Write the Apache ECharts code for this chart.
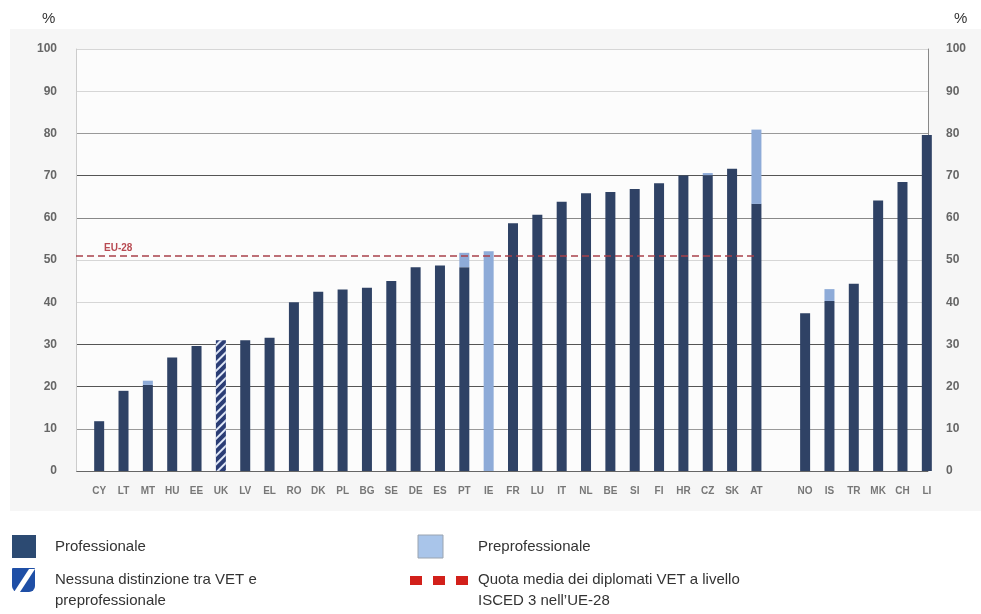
<!DOCTYPE html>
<html>
<head>
<meta charset="utf-8">
<script src="https://cdn.jsdelivr.net/npm/echarts@6/dist/echarts.min.js"></script>
<style>
html, body { margin: 0; padding: 0; background: #fff; }
#main { width: 981px; height: 614px; }
</style>
</head>
<body>
<div id="main"></div>
<script>
// paesi (colonna vuota tra UE-28 e paesi extra UE)
var countries = ['CY','LT','MT','HU','EE','UK','LV','EL','RO','DK','PL','BG','SE','DE','ES','PT','IE',
	'FR','LU','IT','NL','BE','SI','FI','HR','CZ','SK','AT','','NO','IS','TR','MK','CH','LI'];
var professionale = [11.8, 19.0, 20.4, 26.9, 29.6, '-', 31.0, 31.6, 40.0, 42.5, 43.0, 43.4, 45.0, 48.3, 48.7, 48.3, '-',
	58.7, 60.7, 63.8, 65.8, 66.1, 66.8, 68.2, 70.0, 70.1, 71.6, 63.3, '-', 37.4, 40.3, 44.4, 64.1, 68.5, 79.6];
var preprofessionale = ['-', '-', 1.0, '-', '-', '-', '-', '-', '-', '-', '-', '-', '-', '-', '-', 3.4, 52.1,
	'-', '-', '-', '-', '-', '-', '-', '-', 0.5, '-', 17.6, '-', '-', 2.8, '-', '-', '-', '-'];
var nessunaDistinzione = ['-', '-', '-', '-', '-', 31.0, '-', '-', '-', '-', '-', '-', '-', '-', '-', '-', '-',
	'-', '-', '-', '-', '-', '-', '-', '-', '-', '-', '-', '-', '-', '-', '-', '-', '-', '-'];
var euAvg = 51.0;
var yMin = 0, yMax = 100, yStep = 10;

// colori delle linee di griglia (0 -> 100), come nell'originale
var gridColors = ['#666', '#999', '#555', '#555', '#d6d6d6', '#d6d6d6', '#888', '#555', '#999', '#d6d6d6', '#d6d6d6'];

var main = document.getElementById('main');
var myChart = echarts.init(main);

var tickFont = {color: '#666', fontSize: 12, fontWeight: 'bold', fontFamily: 'Liberation Sans'};
var legendFont = {fontSize: 15, fontFamily: 'Liberation Sans', fill: '#333'};

var option = {
	animation: false,
	backgroundColor: '#fff',
	textStyle: {fontFamily: 'Liberation Sans'},
	grid: [
		{left: 76, right: 53, top: 49, bottom: 143, show: true, backgroundColor: '#fcfcfc', borderWidth: 0},
		{left: 87, right: 42, top: 49, bottom: 143},
		{left: 76, right: 225, top: 49, bottom: 143}
	],
	xAxis: [
		{gridIndex: 0, type: 'value', show: false, min: 0, max: 1},
		{
			gridIndex: 1,
			type: 'category',
			data: countries,
			axisLine: {show: false},
			axisTick: {show: false},
			axisLabel: {interval: 0, color: '#777', fontSize: 10, fontWeight: 'bold', margin: 15, fontFamily: 'Liberation Sans'}
		},
		{gridIndex: 2, type: 'value', show: false, min: 0, max: 1}
	],
	yAxis: [
		{
			gridIndex: 0, type: 'value', position: 'left',
			min: yMin, max: yMax, interval: yStep,
			axisLine: {show: true, lineStyle: {color: '#ccc'}},
			axisTick: {show: false},
			axisLabel: Object.assign({margin: 19}, tickFont),
			splitLine: {show: true, lineStyle: {color: gridColors, width: 1}}
		},
		{
			gridIndex: 0, type: 'value', position: 'right',
			min: yMin, max: yMax, interval: yStep,
			axisLine: {show: true, lineStyle: {color: '#888'}},
			axisTick: {show: false},
			axisLabel: Object.assign({margin: 18}, tickFont),
			splitLine: {show: false}
		},
		{gridIndex: 1, type: 'value', show: false, min: yMin, max: yMax},
		{gridIndex: 2, type: 'value', show: false, min: yMin, max: yMax}
	],
	series: [
		{
			name: 'Professionale', type: 'bar', stack: 'vet',
			xAxisIndex: 1, yAxisIndex: 2,
			barWidth: 10,
			itemStyle: {color: '#2f4265'},
			data: professionale
		},
		{
			name: 'Preprofessionale', type: 'bar', stack: 'vet',
			xAxisIndex: 1, yAxisIndex: 2,
			barWidth: 10,
			itemStyle: {color: '#8eabd8'},
			data: preprofessionale
		},
		{
			name: 'Nessuna distinzione', type: 'bar', stack: 'vet',
			xAxisIndex: 1, yAxisIndex: 2,
			barWidth: 10,
			itemStyle: {
				color: '#2b3d75',
				decal: {symbol: 'rect', symbolSize: 1, color: '#dfe7f7', dashArrayX: [1, 0], dashArrayY: [2, 4], rotation: -Math.PI / 4}
			},
			data: nessunaDistinzione
		},
		{
			name: 'EU-28', type: 'line',
			xAxisIndex: 2, yAxisIndex: 3,
			data: [],
			markLine: {
				silent: true,
				symbol: ['none', 'none'],
				lineStyle: {color: '#a8404a', type: [7, 4], width: 1.5},
				label: {
					position: 'insideStartTop', formatter: 'EU-28',
					color: '#b84a52', fontSize: 10, fontWeight: 'bold', distance: [28, 3]
				},
				data: [{yAxis: euAvg}]
			}
		}
	],
	graphic: [
		{type: 'rect', z: -10, shape: {x: 10, y: 29, width: 971, height: 482}, style: {fill: '#f6f6f6'}},
		{type: 'text', left: 42, top: 11, style: {text: '%', fontSize: 15, fontFamily: 'Liberation Sans', fill: '#333'}},
		{type: 'text', left: 954, top: 11, style: {text: '%', fontSize: 15, fontFamily: 'Liberation Sans', fill: '#333'}},
		// legenda
		{type: 'rect', shape: {x: 12, y: 535, width: 24, height: 23}, style: {fill: '#2c4a72'}},
		{type: 'text', x: 55, y: 547, style: Object.assign({text: 'Professionale', verticalAlign: 'middle'}, legendFont)},
		{type: 'rect', shape: {x: 418, y: 535, width: 25, height: 23}, style: {fill: '#a9c5ea', stroke: '#9aa4b0', lineWidth: 1}},
		{type: 'text', x: 478, y: 547, style: Object.assign({text: 'Preprofessionale', verticalAlign: 'middle'}, legendFont)},
		{type: 'rect', shape: {x: 12, y: 568, width: 23, height: 24, r: [1, 1, 6, 6]}, style: {fill: '#1f4fa6'}},
		{type: 'polygon', shape: {points: [[14, 592], [20, 592], [35, 569], [29, 569]]}, style: {fill: '#fff'}},
		{type: 'text', x: 55, y: 580, style: Object.assign({text: 'Nessuna distinzione tra VET e', verticalAlign: 'middle'}, legendFont)},
		{type: 'text', x: 55, y: 601, style: Object.assign({text: 'preprofessionale', verticalAlign: 'middle'}, legendFont)},
		{type: 'rect', shape: {x: 410, y: 576, width: 12, height: 9}, style: {fill: '#d2201a'}},
		{type: 'rect', shape: {x: 433, y: 576, width: 12, height: 9}, style: {fill: '#d2201a'}},
		{type: 'rect', shape: {x: 456, y: 576, width: 12, height: 9}, style: {fill: '#d2201a'}},
		{type: 'text', x: 478, y: 580, style: Object.assign({text: 'Quota media dei diplomati VET a livello', verticalAlign: 'middle'}, legendFont)},
		{type: 'text', x: 478, y: 601, style: Object.assign({text: 'ISCED 3 nell\u2019UE-28', verticalAlign: 'middle'}, legendFont)}
	]
};

myChart.setOption(option, true);
</script>
</body>
</html>
